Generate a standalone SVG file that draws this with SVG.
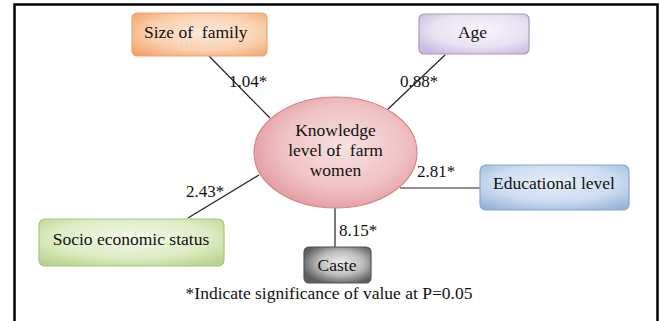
<svg xmlns="http://www.w3.org/2000/svg" width="659" height="321" viewBox="0 0 659 321" font-family="'Liberation Serif', 'DejaVu Serif', serif">
<style>
text{font-family:"Liberation Serif","DejaVu Serif",serif;font-size:17.5px;fill:#111}
.c{text-anchor:middle}
.lbl{font-size:17px}
.conn line{stroke:#222;stroke-width:1.2}
.box{stroke-width:1.2}
</style>
<defs>
<radialGradient id="gOr" cx="0.55" cy="0.45" r="0.7"><stop offset="0" stop-color="#fdeadb"/><stop offset="0.6" stop-color="#fad0ae"/><stop offset="1" stop-color="#f3a46c"/></radialGradient>
<radialGradient id="gPu" cx="0.55" cy="0.4" r="0.7"><stop offset="0" stop-color="#f8f5fb"/><stop offset="0.6" stop-color="#e9e2f2"/><stop offset="1" stop-color="#c9bade"/></radialGradient>
<radialGradient id="gPk" cx="0.55" cy="0.45" r="0.6"><stop offset="0" stop-color="#f7e0e1"/><stop offset="0.6" stop-color="#f0c4c6"/><stop offset="1" stop-color="#e3999e"/></radialGradient>
<radialGradient id="gBl" cx="0.5" cy="0.4" r="0.7"><stop offset="0" stop-color="#e6eef8"/><stop offset="0.6" stop-color="#ccdcf0"/><stop offset="1" stop-color="#97b5dc"/></radialGradient>
<radialGradient id="gGr" cx="0.5" cy="0.4" r="0.7"><stop offset="0" stop-color="#f3f8e8"/><stop offset="0.6" stop-color="#deecc4"/><stop offset="1" stop-color="#b9d48c"/></radialGradient>
<radialGradient id="gGy" cx="0.55" cy="0.45" r="0.6"><stop offset="0" stop-color="#eeeeee"/><stop offset="0.55" stop-color="#bdbdbd"/><stop offset="1" stop-color="#5e5e5e"/></radialGradient>
</defs>
<path d="M14.5,321 V4.5 H657.5 V321" fill="none" stroke="#000" stroke-width="2.5"/>
<g class="conn">
<line x1="209" y1="56" x2="270" y2="118"/>
<line x1="445" y1="55" x2="387" y2="110"/>
<line x1="188" y1="218" x2="259" y2="175"/>
<line x1="400" y1="188" x2="480" y2="188"/>
<line x1="335" y1="208" x2="335" y2="247"/>
<text class="lbl" x="229" y="87">1.04*</text>
<text class="lbl" x="400" y="87">0.88*</text>
<text class="lbl" x="186" y="197">2.43*</text>
<text class="lbl" x="417" y="177">2.81*</text>
<text class="lbl" x="339" y="236">8.15*</text>
</g>
<g id="center">
<ellipse cx="335.5" cy="152.5" rx="81.5" ry="55.5" fill="url(#gPk)" stroke="#d3858b" stroke-width="1.2"/>
<text class="c" x="335.5" y="135.5">Knowledge</text>
<text class="c" x="335.5" y="155.5" xml:space="preserve">level of  farm</text>
<text class="c" x="335.5" y="175.5">women</text>
</g>
<g id="family">
<rect class="box" x="132" y="13" width="135" height="43" rx="5" fill="url(#gOr)" stroke="#eba574"/>
<text x="144" y="37.5" xml:space="preserve">Size of  family</text>
</g>
<g id="age">
<rect class="box" x="419" y="14" width="110" height="40" rx="5" fill="url(#gPu)" stroke="#a898c8"/>
<text class="c" x="472.5" y="38">Age</text>
</g>
<g id="education">
<rect class="box" x="480" y="165" width="149" height="45" rx="6" fill="url(#gBl)" stroke="#86a6d0"/>
<text class="c" x="554" y="189">Educational level</text>
</g>
<g id="socio">
<rect class="box" x="39" y="219" width="185" height="47" rx="6" fill="url(#gGr)" stroke="#aac47e"/>
<text class="c" x="131" y="245">Socio economic status</text>
</g>
<g id="caste">
<rect class="box" x="304" y="247" width="67" height="36" rx="5" fill="url(#gGy)" stroke="#555"/>
<text class="c" x="337" y="271">Caste</text>
</g>
<text class="c" x="329" y="299">*Indicate significance of value at P=0.05</text>
</svg>
